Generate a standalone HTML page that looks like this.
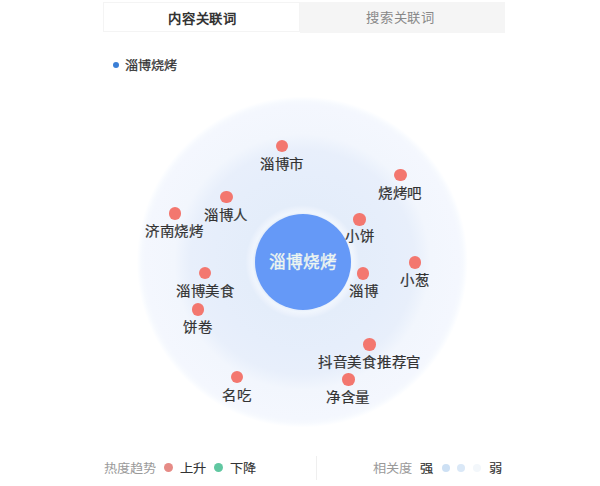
<!DOCTYPE html>
<html lang="zh-CN"><head><meta charset="utf-8">
<style>
html,body{margin:0;padding:0;width:600px;height:486px;overflow:hidden;background:#fff;font-family:"Liberation Sans",sans-serif;}
.abs{position:absolute;}
.t{position:absolute;white-space:nowrap;line-height:1;transform-origin:0 0;}
.dot{position:absolute;border-radius:50%;}
</style></head><body>
<div class="abs" style="left:0;top:0;width:600px;height:486px;background:radial-gradient(circle at 302.3px 262px,#dfe9f9 0px,#e2ebfa 47px,#f0f6fd 50px,#ecf2fc 53px,#e4edfa 57px,#e6eefb 90px,#e8effb 112px,#ecf2fc 119px,#f2f6fd 128px,#f4f7fe 157px,#f6f9fe 160.5px,#fafcff 163px,#ffffff 165.5px);"></div>
<div class="abs" style="left:103px;top:2px;width:197px;height:30px;border:1px solid #f4f4f4;background:#fff;box-sizing:border-box;"></div>
<div class="abs" style="left:299.5px;top:2px;width:205px;height:31px;background:#f5f5f5;"></div>
<div class="t" style="left:167.95px;top:12.57px;font-size:12.581px;font-weight:bold;color:#333;-webkit-text-stroke:0.00px #333;transform:scaleX(1.0582);">内容关联词</div>
<div class="t" style="left:365.52px;top:12.25px;font-size:12.581px;font-weight:normal;color:#888;-webkit-text-stroke:0.00px #888;transform:scaleX(1.0582);">搜索关联词</div>
<div class="abs" style="left:113px;top:62px;width:6px;height:6px;border-radius:50%;background:#3b7fd6;"></div>
<div class="t" style="left:124.80px;top:60.38px;font-size:12.168px;font-weight:normal;color:#333;-webkit-text-stroke:0.25px #333;transform:scaleX(1.0768);">淄博烧烤</div>
<div class="abs" style="left:255px;top:214px;width:96px;height:96px;border-radius:50%;background:#6599f7;"></div>
<div class="t" style="left:269.20px;top:254.50px;font-size:16.533px;font-weight:normal;color:#eef6f0;-webkit-text-stroke:0.40px #eef6f0;transform:scaleX(1.0055);">淄博烧烤</div>
<div class="dot" style="left:275.75px;top:139.75px;width:12.5px;height:12.5px;background:#f3776f;"></div>
<div class="t" style="left:259.62px;top:157.98px;font-size:13.763px;font-weight:normal;color:#333;-webkit-text-stroke:0.20px #333;transform:scaleX(1.0508);">淄博市</div>
<div class="dot" style="left:394.25px;top:168.75px;width:12.5px;height:12.5px;background:#f3776f;"></div>
<div class="t" style="left:378.30px;top:186.62px;font-size:13.763px;font-weight:normal;color:#333;-webkit-text-stroke:0.20px #333;transform:scaleX(1.0508);">烧烤吧</div>
<div class="dot" style="left:220.25px;top:190.75px;width:12.5px;height:12.5px;background:#f3776f;"></div>
<div class="t" style="left:204.00px;top:208.62px;font-size:13.763px;font-weight:normal;color:#333;-webkit-text-stroke:0.20px #333;transform:scaleX(1.0508);">淄博人</div>
<div class="dot" style="left:168.75px;top:207.25px;width:12.5px;height:12.5px;background:#f3776f;"></div>
<div class="t" style="left:145.43px;top:225.03px;font-size:13.763px;font-weight:normal;color:#333;-webkit-text-stroke:0.20px #333;transform:scaleX(1.0508);">济南烧烤</div>
<div class="dot" style="left:353.25px;top:213.25px;width:12.5px;height:12.5px;background:#f3776f;"></div>
<div class="t" style="left:345.27px;top:230.20px;font-size:13.763px;font-weight:normal;color:#333;-webkit-text-stroke:0.20px #333;transform:scaleX(1.0508);">小饼</div>
<div class="dot" style="left:356.75px;top:267.35px;width:12.5px;height:12.5px;background:#f3776f;"></div>
<div class="t" style="left:348.98px;top:285.12px;font-size:13.763px;font-weight:normal;color:#333;-webkit-text-stroke:0.20px #333;transform:scaleX(1.0508);">淄博</div>
<div class="dot" style="left:408.55px;top:256.25px;width:12.5px;height:12.5px;background:#f3776f;"></div>
<div class="t" style="left:400.25px;top:273.88px;font-size:13.763px;font-weight:normal;color:#333;-webkit-text-stroke:0.20px #333;transform:scaleX(1.0508);">小葱</div>
<div class="dot" style="left:198.65px;top:266.75px;width:12.5px;height:12.5px;background:#f3776f;"></div>
<div class="t" style="left:175.85px;top:284.77px;font-size:13.763px;font-weight:normal;color:#333;-webkit-text-stroke:0.20px #333;transform:scaleX(1.0508);">淄博美食</div>
<div class="dot" style="left:191.95px;top:303.05px;width:12.5px;height:12.5px;background:#f3776f;"></div>
<div class="t" style="left:183.47px;top:321.07px;font-size:13.763px;font-weight:normal;color:#333;-webkit-text-stroke:0.20px #333;transform:scaleX(1.0508);">饼卷</div>
<div class="dot" style="left:363.05px;top:338.05px;width:12.5px;height:12.5px;background:#f3776f;"></div>
<div class="t" style="left:317.67px;top:356.07px;font-size:13.763px;font-weight:normal;color:#333;-webkit-text-stroke:0.20px #333;transform:scaleX(1.0508);">抖音美食推荐官</div>
<div class="dot" style="left:342.35px;top:373.05px;width:12.5px;height:12.5px;background:#f3776f;"></div>
<div class="t" style="left:326.20px;top:391.07px;font-size:13.763px;font-weight:normal;color:#333;-webkit-text-stroke:0.20px #333;transform:scaleX(1.0508);">净含量</div>
<div class="dot" style="left:230.75px;top:370.95px;width:12.5px;height:12.5px;background:#f3776f;"></div>
<div class="t" style="left:222.43px;top:389.12px;font-size:13.763px;font-weight:normal;color:#333;-webkit-text-stroke:0.20px #333;transform:scaleX(1.0508);">名吃</div>
<div class="abs" style="left:164.2px;top:463.3px;width:9px;height:9px;border-radius:50%;background:#e68b86;"></div>
<div class="abs" style="left:214.3px;top:463.4px;width:9px;height:9px;border-radius:50%;background:#60c7a1;"></div>
<div class="abs" style="left:316px;top:456px;width:1px;height:24px;background:#efefef;"></div>
<div class="abs" style="left:441.5px;top:463.5px;width:8px;height:8px;border-radius:50%;background:#cde0f4;"></div>
<div class="abs" style="left:456.7px;top:463.5px;width:8px;height:8px;border-radius:50%;background:#dae8f7;"></div>
<div class="abs" style="left:472.5px;top:463.5px;width:8px;height:8px;border-radius:50%;background:#f3f7fb;"></div>
<div class="t" style="left:103.75px;top:463.12px;font-size:12.229px;font-weight:normal;color:#9a9a9a;-webkit-text-stroke:0.00px #9a9a9a;transform:scaleX(1.0813);">热度趋势</div>
<div class="t" style="left:180.38px;top:462.60px;font-size:12.229px;font-weight:normal;color:#333;-webkit-text-stroke:0.12px #333;transform:scaleX(1.0813);">上升</div>
<div class="t" style="left:230.15px;top:462.98px;font-size:12.229px;font-weight:normal;color:#333;-webkit-text-stroke:0.12px #333;transform:scaleX(1.0813);">下降</div>
<div class="t" style="left:373.25px;top:463.08px;font-size:12.229px;font-weight:normal;color:#9a9a9a;-webkit-text-stroke:0.00px #9a9a9a;transform:scaleX(1.0813);">相关度</div>
<div class="t" style="left:419.95px;top:462.70px;font-size:12.229px;font-weight:normal;color:#333;-webkit-text-stroke:0.20px #333;transform:scaleX(1.0813);">强</div>
<div class="t" style="left:488.68px;top:462.65px;font-size:12.229px;font-weight:normal;color:#333;-webkit-text-stroke:0.12px #333;transform:scaleX(1.0813);">弱</div>
</body></html>
